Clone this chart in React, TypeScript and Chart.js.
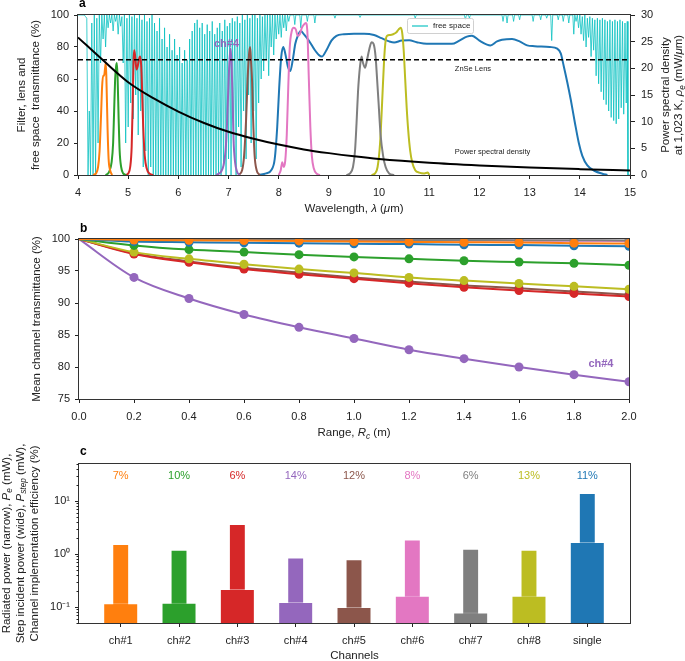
import React, { useEffect, useRef } from 'react';
import { Chart, registerables } from 'chart.js';
Chart.register(...registerables);

const FONT = '"Liberation Sans", Arial, Helvetica, sans-serif';
const INK = '#222222';
const FRAME = '#333333';
const TAB = {
  blue: '#1f77b4', orange: '#ff7f0e', green: '#2ca02c', red: '#d62728', purple: '#9467bd',
  brown: '#8c564b', pink: '#e377c2', gray: '#7f7f7f', olive: '#bcbd22',
};
const CYAN = 'rgba(0, 191, 191, 0.75)';

// ---------------- Panel a data ----------------
const psdWavelength = [4, 4.5, 5, 5.5, 6, 6.5, 7, 7.5, 8, 8.5, 9, 9.5, 10, 11, 12, 13, 14, 15];
const psdValue = [25.8, 21.5, 17.4, 14.4, 11.9, 9.8, 8.1, 6.8, 5.7, 4.8, 4.1, 3.5, 3.0, 2.3, 1.8, 1.4, 1.1, 0.85];
const lensWavelength = [4, 15];
const lensTransmittance = [72, 72];

const filterCh1 = [[4.30, 0], [4.36, 1], [4.40, 5], [4.43, 15], [4.46, 38], [4.48, 55], [4.50, 62], [4.52, 62], [4.54, 67], [4.555, 70], [4.57, 55], [4.59, 28], [4.61, 10], [4.64, 3], [4.68, 0]];
const filterCh2 = [[4.55, 0], [4.62, 2], [4.67, 8], [4.70, 20], [4.72, 40], [4.74, 60], [4.76, 68], [4.775, 70], [4.79, 60], [4.81, 35], [4.83, 15], [4.86, 5], [4.90, 1], [4.96, 0]];
const filterCh3 = [[4.95, 0], [5.0, 1], [5.04, 5], [5.07, 18], [5.09, 45], [5.105, 70], [5.12, 78], [5.14, 74], [5.165, 66], [5.19, 68], [5.22, 73], [5.24, 74], [5.26, 68], [5.28, 50], [5.30, 30], [5.33, 12], [5.37, 4], [5.42, 1], [5.5, 0]];
const filterCh4 = [[6.75, 0], [6.85, 2], [6.90, 6], [6.94, 15], [6.97, 32], [7.0, 58], [7.02, 72], [7.04, 79], [7.06, 70], [7.08, 48], [7.10, 22], [7.13, 8], [7.17, 2], [7.22, 0]];
const filterCh5 = [[7.2, 0], [7.27, 3], [7.31, 12], [7.35, 35], [7.38, 60], [7.41, 76], [7.43, 80], [7.45, 70], [7.47, 58], [7.49, 35], [7.52, 12], [7.56, 3], [7.62, 0]];
const filterCh6 = [[8.0, 0], [8.04, 3], [8.07, 8], [8.10, 5], [8.13, 9], [8.16, 25], [8.19, 55], [8.22, 80], [8.26, 90], [8.30, 92], [8.34, 91], [8.38, 87], [8.42, 88], [8.46, 92], [8.50, 94], [8.54, 95], [8.57, 90], [8.60, 60], [8.63, 30], [8.66, 12], [8.70, 4], [8.75, 1], [8.82, 0]];
const filterCh7 = [[9.35, 0], [9.42, 1], [9.48, 5], [9.52, 15], [9.55, 32], [9.58, 52], [9.62, 68], [9.65, 74], [9.68, 70], [9.72, 67], [9.76, 72], [9.80, 78], [9.85, 83], [9.89, 82], [9.93, 74], [9.96, 60], [9.99, 45], [10.03, 25], [10.08, 12], [10.13, 5], [10.2, 1], [10.3, 0]];
const filterCh8 = [[9.85, 0], [9.92, 1], [9.97, 5], [10.02, 20], [10.06, 45], [10.10, 72], [10.13, 84], [10.16, 87], [10.22, 87.5], [10.28, 88], [10.34, 89], [10.39, 91], [10.43, 92], [10.46, 89], [10.49, 78], [10.52, 60], [10.55, 42], [10.58, 28], [10.62, 15], [10.66, 8], [10.72, 3], [10.8, 1.5], [10.9, 1], [10.97, 1.5], [11.0, 0]];
const filterSingle = [[7.6, 0], [7.75, 1], [7.85, 3], [7.92, 10], [7.97, 30], [8.01, 55], [8.05, 74], [8.09, 80], [8.13, 76], [8.18, 68], [8.23, 65], [8.28, 72], [8.33, 82], [8.38, 87], [8.44, 90], [8.5, 88], [8.6, 84], [8.7, 79], [8.8, 75], [8.86, 74], [8.95, 78], [9.05, 84], [9.15, 87], [9.3, 88], [9.5, 88.3], [9.7, 88.3], [9.9, 87.5], [10.05, 85.5], [10.2, 83.5], [10.3, 82.8], [10.45, 84], [10.6, 84.2], [10.75, 83], [10.95, 82], [11.2, 82], [11.45, 82], [11.6, 84], [11.75, 86.5], [11.85, 87], [12.0, 84], [12.15, 81.5], [12.22, 81], [12.35, 83.5], [12.45, 84.5], [12.65, 85], [12.8, 83.5], [12.95, 81], [13.1, 80.5], [13.4, 80], [13.55, 79], [13.62, 76], [13.68, 68], [13.75, 58], [13.82, 47], [13.9, 33], [13.98, 20], [14.05, 12], [14.15, 6], [14.3, 2.5], [14.45, 0.8], [14.55, 0]];

// free-space transmittance, 4.0 .. 8.2 um sampled every 0.025 um
const freeSpaceStart = 4.0;
const freeSpaceStep = 0.025;
const freeSpaceDense = [
  100, 100, 100, 100, 100, 100, 99, 98,
  0, 40, 0, 95, 0, 100, 0, 98,
  20, 100, 70, 100, 85, 100, 80, 100,
  92, 100, 95, 100, 90, 100, 96, 100,
  88, 100, 93, 99, 70, 100, 20, 98,
  30, 100, 45, 99, 35, 100, 50, 98,
  25, 100, 40, 97, 5, 100, 15, 96,
  0, 98, 5, 100, 0, 95, 0, 90,
  0, 98, 0, 85, 0, 92, 0, 80,
  0, 88, 0, 78, 0, 85, 0, 75,
  0, 80, 0, 70, 0, 78, 0, 72,
  0, 85, 0, 90, 0, 95, 0, 97,
  0, 92, 0, 95, 0, 88, 0, 94,
  0, 90, 0, 96, 0, 88, 0, 92,
  0, 95, 0, 90, 5, 97, 0, 93,
  10, 95, 0, 98, 20, 96, 0, 99,
  30, 95, 5, 100, 40, 97, 10, 100,
  50, 98, 20, 100, 40, 100, 10, 98,
  45, 100, 60, 99, 65, 100, 72, 100,
  62, 100, 80, 100, 75, 100, 85, 100,
  88, 100, 86, 100, 92, 100, 90, 100,
  96,
];
const freeSpaceClear = [[8.225, 100], [8.3, 100], [8.32, 94], [8.34, 100], [8.42, 100], [8.44, 92], [8.46, 100], [8.55, 100], [8.57, 96], [8.59, 100], [8.7, 100], [8.72, 95], [8.74, 100], [9.1, 100], [9.12, 98], [9.14, 100], [9.6, 100], [9.62, 98.5], [9.64, 100], [10.7, 100], [10.72, 98], [10.74, 100], [11.7, 100], [11.72, 97], [11.74, 100], [11.78, 100], [11.8, 98], [11.82, 100], [12.45, 100], [12.47, 96], [12.49, 100], [12.53, 100], [12.55, 95], [12.57, 100], [12.66, 100], [12.68, 96], [12.7, 100], [12.78, 100], [12.8, 97], [12.82, 100], [13.05, 100], [13.07, 96], [13.09, 100], [13.2, 100], [13.22, 97], [13.24, 100], [13.32, 100], [13.34, 98], [13.36, 100], [13.42, 100], [13.44, 84], [13.46, 100], [13.55, 100], [13.57, 97], [13.59, 100], [13.65, 100], [13.67, 96], [13.69, 100], [13.76, 100], [13.78, 95], [13.8, 100], [13.86, 100], [13.88, 88], [13.9, 100]];
const freeSpaceTail = [[13.925, 96], [13.95, 100], [13.975, 92], [14.0, 100], [14.025, 88], [14.05, 99], [14.075, 84], [14.1, 100], [14.125, 80], [14.15, 98], [14.175, 86], [14.2, 99], [14.225, 74], [14.25, 98], [14.275, 78], [14.3, 97], [14.325, 62], [14.35, 98], [14.375, 57], [14.4, 97], [14.425, 52], [14.45, 98], [14.475, 47], [14.5, 97], [14.525, 44], [14.55, 96], [14.575, 40], [14.6, 97], [14.625, 36], [14.65, 96], [14.675, 34], [14.7, 97], [14.725, 32], [14.75, 96], [14.775, 35], [14.8, 97], [14.825, 42], [14.85, 96], [14.875, 38], [14.9, 95], [14.925, 45], [14.945, 96], [14.96, 0], [15.0, 0]];

// ---------------- Panel b data ----------------
const rangeM = [0, 0.2, 0.4, 0.6, 0.8, 1.0, 1.2, 1.4, 1.6, 1.8, 2.0];
const transCh1 = [100, 99.85, 99.8, 99.75, 99.7, 99.6, 99.55, 99.5, 99.45, 99.35, 99.3];
const transCh2 = [100, 99.0, 98.35, 97.95, 97.55, 97.2, 96.9, 96.6, 96.4, 96.2, 95.9];
const transCh3 = [100, 97.65, 96.35, 95.3, 94.5, 93.8, 93.1, 92.45, 91.95, 91.5, 91.0];
const transCh4 = [100, 94.0, 90.7, 88.2, 86.2, 84.45, 82.7, 81.3, 80.0, 78.8, 77.7];
const transCh5 = [100, 97.75, 96.5, 95.5, 94.75, 94.0, 93.35, 92.75, 92.3, 91.8, 91.3];
const transCh6 = [100, 99.95, 99.9, 99.88, 99.85, 99.82, 99.8, 99.78, 99.75, 99.72, 99.7];
const transCh7 = [100, 99.97, 99.95, 99.93, 99.9, 99.88, 99.86, 99.84, 99.82, 99.8, 99.78];
const transCh8 = [100, 97.95, 96.9, 96.05, 95.3, 94.7, 94.0, 93.5, 93.05, 92.6, 92.15];
const transSingle = [100, 99.6, 99.5, 99.4, 99.35, 99.25, 99.2, 99.1, 99.05, 98.95, 98.85];

// ---------------- Panel c data ----------------
const channelNames = ['ch#1', 'ch#2', 'ch#3', 'ch#4', 'ch#5', 'ch#6', 'ch#7', 'ch#8', 'single'];
const radiatedPower = [1.55, 1.2, 3.68, 0.86, 0.80, 1.89, 1.26, 1.2, 14.2];
const stepPower = [0.118, 0.12, 0.22, 0.125, 0.10, 0.163, 0.079, 0.163, 1.68];
const efficiencyPct = [7, 10, 6, 14, 12, 8, 6, 13, 11];
const channelColors = [TAB.orange, TAB.green, TAB.red, TAB.purple, TAB.brown, TAB.pink, TAB.gray, TAB.olive, TAB.blue];

// ---------------- helpers ----------------
type Seg = { t: string; i?: boolean; sub?: boolean; b?: boolean };

function drawRich(ctx: CanvasRenderingContext2D, segs: Seg[], x: number, y: number, size: number, color: string, rot = 0, align: 'center' | 'left' = 'center') {
  ctx.save();
  ctx.translate(x, y);
  ctx.rotate(rot);
  const fontFor = (s: Seg) => `${s.i ? 'italic ' : ''}${s.b ? 'bold ' : ''}${s.sub ? (size * 0.72).toFixed(2) : size}px ${FONT}`;
  let total = 0;
  const widths = segs.map((s) => { ctx.font = fontFor(s); const w = ctx.measureText(s.t).width; total += w; return w; });
  let cx = align === 'center' ? -total / 2 : 0;
  ctx.fillStyle = color;
  ctx.textBaseline = 'middle';
  ctx.textAlign = 'left';
  segs.forEach((s, k) => {
    ctx.font = fontFor(s);
    ctx.fillText(s.t, cx, s.sub ? size * 0.3 : 0);
    cx += widths[k];
  });
  ctx.restore();
}

function drawFrame(ctx: CanvasRenderingContext2D, ca: any) {
  ctx.save();
  ctx.strokeStyle = FRAME;
  ctx.lineWidth = 1;
  ctx.strokeRect(Math.round(ca.left) - 0.5, Math.round(ca.top) - 0.5, Math.round(ca.right - ca.left) + 1, Math.round(ca.bottom - ca.top) + 1);
  ctx.restore();
}

function panelLetter(ctx: CanvasRenderingContext2D, letter: string, x: number, y: number) {
  ctx.save();
  ctx.font = `bold 12px ${FONT}`;
  ctx.fillStyle = '#000';
  ctx.textAlign = 'left';
  ctx.textBaseline = 'alphabetic';
  ctx.fillText(letter, x, y);
  ctx.restore();
}

const tickFont = { family: FONT, size: 11 };
const TITLE = 11.5;

function axisStyle(tickLength: number, padding: number) {
  return {
    border: { display: false },
    grid: { display: true, drawOnChartArea: false, drawTicks: true, tickLength, color: INK, tickColor: INK, tickWidth: 1 },
    ticks: { color: INK, font: tickFont, padding, autoSkip: false, maxRotation: 0 },
    title: { display: false },
  };
}

const baseOptions = {
  responsive: false,
  maintainAspectRatio: false,
  animation: false as const,
  devicePixelRatio: 1,
  events: [] as any[],
};

function makePanelA(canvas: HTMLCanvasElement) {
  const toXY = (pts: number[][]) => pts.map(([x, y]) => ({ x, y }));
  const freeSpace = [
    ...freeSpaceDense.map((v, i) => ({ x: freeSpaceStart + i * freeSpaceStep, y: v })),
    ...toXY(freeSpaceClear),
    ...toXY(freeSpaceTail),
  ];
  const filters: [number[][], string][] = [
    [filterCh1, TAB.orange], [filterCh2, TAB.green], [filterCh3, TAB.red], [filterCh4, TAB.purple],
    [filterCh5, TAB.brown], [filterCh6, TAB.pink], [filterCh7, TAB.gray], [filterCh8, TAB.olive], [filterSingle, TAB.blue],
  ];
  const overlay = {
    id: 'overlayA',
    afterDraw(chart: any) {
      const { ctx, chartArea: ca, scales } = chart;
      const x = scales.x, y = scales.y;
      drawFrame(ctx, ca);
      drawRich(ctx, [{ t: 'ZnSe Lens' }], x.getPixelForValue(11.87), y.getPixelForValue(66), 7.5, INK);
      drawRich(ctx, [{ t: 'Power spectral density' }], x.getPixelForValue(12.26), y.getPixelForValue(14.6), 7.5, INK);
      drawRich(ctx, [{ t: 'ch#4', b: true }], x.getPixelForValue(6.96), y.getPixelForValue(82), 11, TAB.purple);
      // legend
      ctx.save();
      ctx.fillStyle = 'rgba(255,255,255,0.85)';
      ctx.strokeStyle = '#d0d0d0';
      ctx.lineWidth = 1;
      ctx.beginPath();
      (ctx as any).roundRect(407.5, 18.5, 66, 15, 2);
      ctx.fill();
      ctx.stroke();
      ctx.strokeStyle = CYAN;
      ctx.lineWidth = 1.5;
      ctx.beginPath();
      ctx.moveTo(412, 26);
      ctx.lineTo(428, 26);
      ctx.stroke();
      ctx.restore();
      drawRich(ctx, [{ t: 'free space' }], 433, 26, 8, INK, 0, 'left');
      panelLetter(ctx, 'a', ca.left + 1, 7);
      const cy = (ca.top + ca.bottom) / 2;
      const cx = (ca.left + ca.right) / 2;
      drawRich(ctx, [{ t: 'Filter, lens and' }], 21.5, cy, TITLE, INK, -Math.PI / 2);
      drawRich(ctx, [{ t: 'free space  transmittance (%)' }], 36, cy, TITLE, INK, -Math.PI / 2);
      drawRich(ctx, [{ t: 'Power spectral density' }], ca.right + 36, cy, TITLE, INK, -Math.PI / 2);
      drawRich(ctx, [{ t: 'at 1,023 K, ' }, { t: 'ρ', i: true }, { t: 'e', i: true, sub: true }, { t: ' (mW/' }, { t: 'μ', i: true }, { t: 'm)' }], ca.right + 49, cy, TITLE, INK, -Math.PI / 2);
      drawRich(ctx, [{ t: 'Wavelength, ' }, { t: 'λ', i: true }, { t: ' (' }, { t: 'μ', i: true }, { t: 'm)' }], cx, 209, TITLE, INK);
    },
  };
  return new Chart(canvas, {
    type: 'line',
    data: {
      datasets: [
        { label: 'Power spectral density', data: psdWavelength.map((w, i) => ({ x: w, y: psdValue[i] })), yAxisID: 'y1', borderColor: '#000', borderWidth: 2, pointRadius: 0, cubicInterpolationMode: 'monotone', order: 0 },
        { label: 'ZnSe Lens', data: lensWavelength.map((w, i) => ({ x: w, y: lensTransmittance[i] })), yAxisID: 'y', borderColor: '#000', borderWidth: 1.5, borderDash: [5, 3], pointRadius: 0, order: 0 },
        ...filters.map(([pts, color], k) => ({
          label: 'filter' + k, data: toXY(pts), yAxisID: 'y', borderColor: color, borderWidth: 2, pointRadius: 0,
          cubicInterpolationMode: 'monotone' as const, order: 2,
        })),
        { label: 'free space', data: freeSpace, yAxisID: 'y', borderColor: CYAN, borderWidth: 1, pointRadius: 0, tension: 0, order: 5 },
      ],
    },
    options: {
      ...baseOptions,
      layout: { padding: { top: 15, left: 0, right: 0, bottom: 0 } },
      plugins: { legend: { display: false }, tooltip: { enabled: false } },
      scales: {
        x: { type: 'linear', min: 4, max: 15, ...axisStyle(4, 7), ticks: { ...axisStyle(4, 7).ticks, stepSize: 1 }, afterFit: (s: any) => { s.height = 43; } },
        y: { type: 'linear', position: 'left', min: 0, max: 100, ...axisStyle(4, 5), ticks: { ...axisStyle(4, 5).ticks, stepSize: 20 }, afterFit: (s: any) => { s.width = 78; } },
        y1: { type: 'linear', position: 'right', min: 0, max: 30, ...axisStyle(5, 6), ticks: { ...axisStyle(5, 6).ticks, stepSize: 5 }, afterFit: (s: any) => { s.width = 55; } },
      },
    } as any,
    plugins: [overlay],
  });
}

function makePanelB(canvas: HTMLCanvasElement) {
  const series: [number[], string, number][] = [
    [transCh1, TAB.orange, 0], [transSingle, TAB.blue, 1], [transCh7, TAB.gray, 2], [transCh6, TAB.pink, 3],
    [transCh2, TAB.green, 4], [transCh8, TAB.olive, 5], [transCh3, TAB.red, 6], [transCh5, TAB.brown, 7], [transCh4, TAB.purple, 8],
  ];
  const overlay = {
    id: 'overlayB',
    afterDraw(chart: any) {
      const { ctx, chartArea: ca, scales } = chart;
      drawFrame(ctx, ca);
      drawRich(ctx, [{ t: 'ch#4', b: true }], scales.x.getPixelForValue(1.898), scales.y.getPixelForValue(80.5), 11, TAB.purple);
      panelLetter(ctx, 'b', ca.left + 1, 13.5);
      const cy = (ca.top + ca.bottom) / 2;
      const cx = (ca.left + ca.right) / 2;
      drawRich(ctx, [{ t: 'Mean channel transmittance (%)' }], 37, cy, TITLE, INK, -Math.PI / 2);
      drawRich(ctx, [{ t: 'Range, ' }, { t: 'R', i: true }, { t: 'c', i: true, sub: true }, { t: ' (m)' }], cx, 215, TITLE, INK);
    },
  };
  return new Chart(canvas, {
    type: 'line',
    data: {
      datasets: series.map(([vals, color, order]) => ({
        label: 's' + order,
        data: rangeM.map((r, i) => ({ x: r, y: vals[i] })),
        borderColor: color, backgroundColor: color, pointBackgroundColor: color, pointBorderColor: color,
        borderWidth: 2, pointBorderWidth: 0,
        pointRadius: rangeM.map((_, i) => (i === 0 ? 0 : 4.5)),
        cubicInterpolationMode: 'monotone' as const, order,
      })),
    },
    options: {
      ...baseOptions,
      layout: { padding: { top: 21, left: 0, right: 56, bottom: 0 } },
      plugins: { legend: { display: false }, tooltip: { enabled: false } },
      scales: {
        x: { type: 'linear', min: 0, max: 2, ...axisStyle(4, 7), ticks: { ...axisStyle(4, 7).ticks, stepSize: 0.2, callback: (v: any) => Number(v).toFixed(1) }, afterFit: (s: any) => { s.height = 44; } },
        y: { type: 'linear', min: 75, max: 100, ...axisStyle(4, 5), ticks: { ...axisStyle(4, 5).ticks, stepSize: 5 }, afterFit: (s: any) => { s.width = 79; } },
      },
    } as any,
    plugins: [overlay],
  });
}

const SUP: Record<string, string> = { '-': '⁻', '0': '⁰', '1': '¹', '2': '²' };

function makePanelC(canvas: HTMLCanvasElement) {
  const overlay = {
    id: 'overlayC',
    afterDraw(chart: any) {
      const { ctx, chartArea: ca, scales } = chart;
      const x = scales.x, y = scales.y;
      drawFrame(ctx, ca);
      // minor log ticks
      ctx.save();
      ctx.strokeStyle = INK;
      ctx.lineWidth = 1;
      for (let k = -2; k <= 1; k++) {
        for (let m = 2; m <= 9; m++) {
          const v = m * Math.pow(10, k);
          if (v < y.min || v > y.max) continue;
          const py = Math.round(y.getPixelForValue(v)) + 0.5;
          ctx.beginPath();
          ctx.moveTo(ca.left - 2.5, py);
          ctx.lineTo(ca.left, py);
          ctx.stroke();
        }
      }
      ctx.restore();
      efficiencyPct.forEach((p, i) => {
        drawRich(ctx, [{ t: p + '%' }], x.getPixelForValue(i), y.getPixelForValue(29.6), 11, channelColors[i]);
      });
      panelLetter(ctx, 'c', ca.left + 1, 12);
      const cy = (ca.top + ca.bottom) / 2;
      const cx = (ca.left + ca.right) / 2;
      drawRich(ctx, [{ t: 'Radiated power (narrow), ' }, { t: 'P', i: true }, { t: 'e', i: true, sub: true }, { t: ' (mW),' }], 6.5, cy, TITLE, INK, -Math.PI / 2);
      drawRich(ctx, [{ t: 'Step incident power (wide), ' }, { t: 'P', i: true }, { t: 'step', i: true, sub: true }, { t: ' (mW),' }], 20.5, cy, TITLE, INK, -Math.PI / 2);
      drawRich(ctx, [{ t: 'Channel implementation efficiency (%)' }], 34.5, cy, TITLE, INK, -Math.PI / 2);
      drawRich(ctx, [{ t: 'Channels' }], cx, 213, TITLE, INK);
    },
  };
  const barCommon = {
    backgroundColor: channelColors,
    borderColor: 'rgba(255,255,255,0.4)',
    borderWidth: 1,
    categoryPercentage: 1,
    grouped: false,
  };
  return new Chart(canvas, {
    type: 'bar',
    data: {
      datasets: [
        { label: 'Step incident power', data: stepPower.map((v, i) => ({ x: i, y: v })), barPercentage: 0.6, order: 1, ...barCommon },
        { label: 'Radiated power', data: radiatedPower.map((v, i) => ({ x: i, y: v })), barPercentage: 0.29, order: 2, ...barCommon },
      ],
    },
    options: {
      ...baseOptions,
      layout: { padding: { top: 21, left: 0, right: 55, bottom: 0 } },
      plugins: { legend: { display: false }, tooltip: { enabled: false } },
      scales: {
        x: {
          type: 'linear', min: -0.715, max: 8.732, offset: false, ...axisStyle(4, 7),
          grid: { ...axisStyle(4, 7).grid, offset: false },
          ticks: { ...axisStyle(4, 7).ticks, callback: (v: any) => channelNames[v] ?? '' },
          afterBuildTicks: (s: any) => { s.ticks = channelNames.map((_, i) => ({ value: i })); },
          afterFit: (s: any) => { s.height = 38; },
        },
        y: {
          type: 'logarithmic', min: 0.05, max: 50, ...axisStyle(4, 5),
          ticks: { ...axisStyle(4, 5).ticks, callback: (v: any) => '10' + String(Math.round(Math.log10(v))).split('').map((c) => SUP[c] ?? c).join('') },
          afterBuildTicks: (s: any) => { s.ticks = [0.1, 1, 10].map((v) => ({ value: v, major: true })); },
          afterFit: (s: any) => { s.width = 79; },
        },
      },
    } as any,
    plugins: [overlay],
  });
}

export default function App() {
  const aRef = useRef<HTMLCanvasElement>(null);
  const bRef = useRef<HTMLCanvasElement>(null);
  const cRef = useRef<HTMLCanvasElement>(null);
  useEffect(() => {
    const charts = [makePanelA(aRef.current!), makePanelB(bRef.current!), makePanelC(cRef.current!)];
    return () => charts.forEach((c) => c.destroy());
  }, []);
  const cs = (top: number, h: number): React.CSSProperties => ({ position: 'absolute', left: 0, top, width: 685, height: h, display: 'block' });
  return (
    <div style={{ position: 'absolute', left: 0, top: 0, width: 685, height: 661, background: '#fff', overflow: 'hidden' }}>
      <canvas ref={aRef} width={685} height={218} style={cs(0, 218)} />
      <canvas ref={bRef} width={685} height={225} style={cs(218, 225)} />
      <canvas ref={cRef} width={685} height={218} style={cs(443, 218)} />
    </div>
  );
}
